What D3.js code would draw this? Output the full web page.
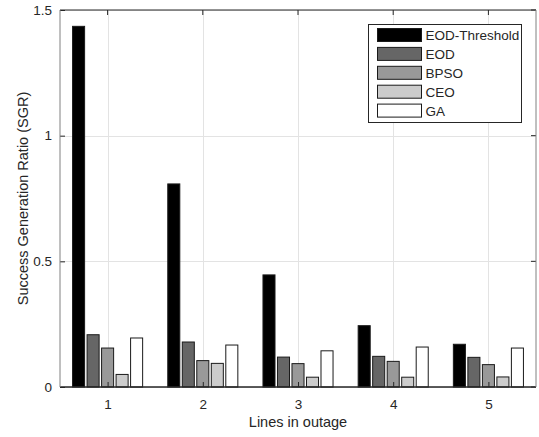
<!DOCTYPE html>
<html>
<head>
<meta charset="utf-8">
<script src="https://cdn.jsdelivr.net/npm/d3@7"></script>
<style>
  body { margin: 0; background: white; }
  svg text { font-family: "Liberation Sans", Arial, sans-serif; fill: #262626; }
</style>
</head>
<body>
<div id="chart"></div>
<script>
"use strict";

var groups = [1, 2, 3, 4, 5];
var series = ["EOD-Threshold", "EOD", "BPSO", "CEO", "GA"];
var colors = ["#000000", "#666666", "#999999", "#cccccc", "#ffffff"];
var eodThreshold = [1.435, 0.808, 0.446, 0.244, 0.170];
var eod = [0.208, 0.179, 0.119, 0.122, 0.118];
var bpso = [0.155, 0.105, 0.093, 0.102, 0.089];
var ceo = [0.050, 0.094, 0.039, 0.039, 0.040];
var ga = [0.195, 0.167, 0.144, 0.159, 0.155];
var yTicks = [0, 0.5, 1, 1.5];

var values = [eodThreshold, eod, bpso, ceo, ga];

var width = 539, height = 437;
var margin = {left: 60, right: 3, top: 10, bottom: 50};

var svg = d3.select("#chart").append("svg")
    .attr("width", width).attr("height", height);

var x = d3.scaleLinear().domain([0.5, 5.5]).range([margin.left, width - margin.right]);
var y = d3.scaleLinear().domain([0, 1.5]).range([height - margin.bottom, margin.top]);
var step = x(2) - x(1);
var x1 = d3.scaleBand().domain(series).range([-0.368 * step, 0.368 * step]).paddingInner(0.17);

// grid
var grid = svg.append("g").attr("stroke", "#e3e3e3").attr("stroke-width", 1);
grid.selectAll("line.gx").data(groups).enter().append("line")
    .attr("x1", d => Math.round(x(d)) + 0.5).attr("x2", d => Math.round(x(d)) + 0.5)
    .attr("y1", y(1.5)).attr("y2", y(0));
grid.selectAll("line.gy").data(yTicks).enter().append("line")
    .attr("x1", x(0.5)).attr("x2", x(5.5))
    .attr("y1", d => Math.round(y(d)) + 0.5).attr("y2", d => Math.round(y(d)) + 0.5);

// bars
var rows = [];
groups.forEach(function (g, i) {
    series.forEach(function (s, j) {
        rows.push({group: g, name: s, value: values[j][i], color: colors[j]});
    });
});
svg.append("g").selectAll("rect").data(rows).enter().append("rect")
    .attr("x", d => x(d.group) + x1(d.name))
    .attr("y", d => y(d.value))
    .attr("width", x1.bandwidth())
    .attr("height", d => y(0) - y(d.value))
    .attr("fill", d => d.color)
    .attr("stroke", "#1a1a1a")
    .attr("stroke-width", 1);

// axes
var xAxis = d3.axisBottom(x).tickValues(groups).tickFormat(d3.format("d"))
    .tickSizeInner(-5).tickSizeOuter(0).tickPadding(12);
var yAxis = d3.axisLeft(y).tickValues(yTicks).tickFormat(d3.format(""))
    .tickSizeInner(-5).tickSizeOuter(0).tickPadding(8);

var gx = svg.append("g").attr("transform", "translate(0," + y(0) + ")").call(xAxis);
var gy = svg.append("g").attr("transform", "translate(" + x(0.5) + ",0)").call(yAxis);
[gx, gy].forEach(function (g) {
    g.select(".domain").remove();
    g.selectAll(".tick line").attr("stroke", "#262626");
    g.selectAll("text").attr("font-size", 13.5).attr("fill", "#262626")
        .style("font-family", "'Liberation Sans', Arial, sans-serif");
});

// box
svg.append("g").selectAll("line").data(groups).enter().append("line")
    .attr("x1", d => x(d)).attr("x2", d => x(d))
    .attr("y1", y(1.5)).attr("y2", y(1.5) + 5).attr("stroke", "#262626");
svg.append("g").selectAll("line").data(yTicks).enter().append("line")
    .attr("x1", x(5.5)).attr("x2", x(5.5) - 5)
    .attr("y1", d => y(d)).attr("y2", d => y(d)).attr("stroke", "#262626");
svg.append("line").attr("x1", x(0.5)).attr("x2", x(5.5)).attr("y1", y(0)).attr("y2", y(0))
    .attr("stroke", "#262626").attr("stroke-width", 1.5);
svg.append("line").attr("x1", x(0.5)).attr("x2", x(5.5)).attr("y1", y(1.5)).attr("y2", y(1.5))
    .attr("stroke", "#262626");
svg.append("line").attr("x1", x(0.5)).attr("x2", x(0.5)).attr("y1", y(0)).attr("y2", y(1.5))
    .attr("stroke", "#808080");
svg.append("line").attr("x1", x(5.5)).attr("x2", x(5.5)).attr("y1", y(0)).attr("y2", y(1.5))
    .attr("stroke", "#808080");

// axis labels
svg.append("text").attr("x", (x(0.5) + x(5.5)) / 2).attr("y", 427)
    .attr("text-anchor", "middle").attr("font-size", 14.5).text("Lines in outage");
svg.append("text")
    .attr("transform", "translate(28," + (y(0) + y(1.5)) / 2 + ") rotate(-90)")
    .attr("text-anchor", "middle").attr("font-size", 14.5).text("Success Generation Ratio (SGR)");

// legend
var legend = svg.append("g").attr("transform", "translate(368.5,24.5)");
legend.append("rect").attr("width", 153).attr("height", 98)
    .attr("fill", "white").attr("stroke", "#262626");
var item = legend.selectAll("g.item").data(series).enter().append("g")
    .attr("transform", (d, i) => "translate(9," + (4 + i * 18.9) + ")");
item.append("rect").attr("width", 44).attr("height", 13)
    .attr("fill", (d, i) => colors[i]).attr("stroke", "#1a1a1a");
item.append("text").attr("x", 48).attr("y", 11.5).attr("font-size", 13.5).text(d => d);
</script>
</body>
</html>
